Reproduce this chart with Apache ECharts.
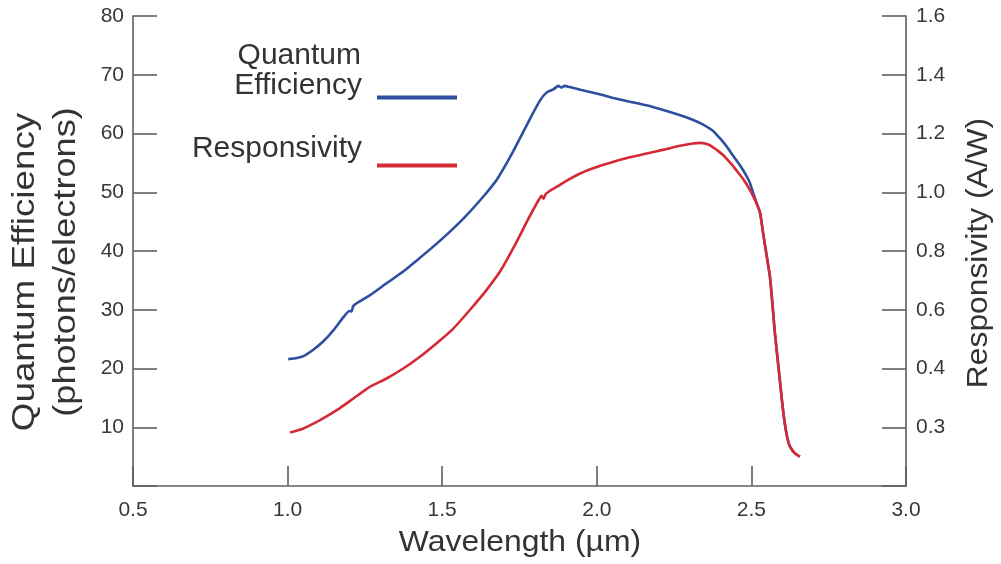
<!DOCTYPE html>
<html>
<head>
<meta charset="utf-8">
<title>Quantum Efficiency and Responsivity</title>
<script src="https://cdn.jsdelivr.net/npm/echarts@6/dist/echarts.min.js"></script>
<style>
  html, body { margin: 0; padding: 0; background: #ffffff; }
  #chart { width: 1001px; height: 564px; }
</style>
</head>
<body>
<div id="chart"></div>
<script>
// Quantum efficiency (%) against wavelength (µm)
const qeWavelength = [1.002, 1.03, 1.051, 1.083, 1.115, 1.148, 1.18, 1.2, 1.207, 1.212, 1.223, 1.267, 1.32, 1.374, 1.418, 1.47, 1.519, 1.57, 1.622, 1.676, 1.73, 1.784, 1.816, 1.838, 1.859, 1.876, 1.886, 1.895, 1.913, 1.95, 1.999, 2.05, 2.107, 2.16, 2.215, 2.27, 2.312, 2.344, 2.377, 2.398, 2.42, 2.441, 2.463, 2.484, 2.495, 2.517, 2.528, 2.538, 2.55, 2.56, 2.568, 2.576, 2.585, 2.593, 2.601, 2.609, 2.617, 2.625, 2.64, 2.657];
const qeValues = [21.6, 21.8, 22.1, 23.2, 24.6, 26.5, 28.7, 29.8, 29.7, 30.6, 31.1, 32.5, 34.5, 36.5, 38.4, 40.7, 43.0, 45.6, 48.6, 52.1, 57.0, 62.5, 65.6, 67.0, 67.5, 68.1, 67.8, 68.1, 67.9, 67.4, 66.8, 66.1, 65.4, 64.8, 64.0, 63.1, 62.3, 61.5, 60.4, 59.2, 57.8, 56.2, 54.6, 52.8, 51.6, 48.1, 46.5, 43.0, 39.0, 35.6, 31.0, 26.0, 21.5, 17.5, 13.5, 10.3, 8.0, 6.7, 5.6, 5.0];

// Responsivity (A/W) against wavelength (µm)
const respWavelength = [1.008, 1.051, 1.105, 1.159, 1.213, 1.267, 1.32, 1.374, 1.428, 1.482, 1.536, 1.59, 1.638, 1.687, 1.735, 1.779, 1.811, 1.822, 1.828, 1.835, 1.85, 1.87, 1.9, 1.946, 2.0, 2.054, 2.11, 2.161, 2.22, 2.269, 2.31, 2.334, 2.35, 2.366, 2.377, 2.393, 2.409, 2.42, 2.437, 2.452, 2.474, 2.495, 2.506, 2.517, 2.528, 2.538, 2.55, 2.56, 2.568, 2.576, 2.585, 2.593, 2.601, 2.609, 2.617, 2.625, 2.64, 2.657];
const respValues = [0.182, 0.196, 0.224, 0.258, 0.298, 0.338, 0.366, 0.400, 0.440, 0.486, 0.536, 0.600, 0.660, 0.730, 0.820, 0.910, 0.972, 0.988, 0.978, 0.994, 1.006, 1.018, 1.038, 1.064, 1.086, 1.104, 1.120, 1.132, 1.146, 1.158, 1.166, 1.168, 1.166, 1.160, 1.152, 1.140, 1.126, 1.114, 1.094, 1.074, 1.044, 1.008, 0.986, 0.962, 0.930, 0.860, 0.780, 0.712, 0.620, 0.520, 0.430, 0.350, 0.270, 0.206, 0.160, 0.134, 0.112, 0.100];

// Tick labels
const leftTickLabels = ['', '10', '20', '30', '40', '50', '60', '70', '80'];
const rightTickLabels = ['', '0.3', '0.4', '0.6', '0.8', '1.0', '1.2', '1.4', '1.6'];
const xTickLabels = ['0.5', '1.0', '1.5', '2.0', '2.5', '3.0'];

const seriesNames = ['Quantum Efficiency', 'Responsivity'];

const BLUE = '#2d4f9e';
const RED = '#d42a35';
const AXIS = '#5f5f5f';
const TEXT = '#333333';
const FONT = '"Liberation Sans", Arial, Helvetica, sans-serif';

const qeData = qeWavelength.map((w, i) => [w, qeValues[i]]);
const respData = respWavelength.map((w, i) => [w, respValues[i]]);

const axisLineStyle = { show: true, lineStyle: { color: AXIS, width: 1.6 } };
const tickLabelStyle = { color: '#383838', fontSize: 21, fontFamily: FONT };

const chart = echarts.init(document.getElementById('chart'), null, { renderer: 'canvas' });

chart.setOption({
  backgroundColor: '#ffffff',
  animation: false,
  grid: { left: 133, right: 95, top: 16, bottom: 78, containLabel: false },
  xAxis: {
    type: 'value',
    min: 0.5,
    max: 3.0,
    interval: 0.5,
    axisLine: axisLineStyle,
    axisTick: { show: true, inside: true, length: 20, lineStyle: { color: AXIS, width: 1.6 } },
    splitLine: { show: false },
    axisLabel: Object.assign({
      margin: 14,
      formatter: v => xTickLabels[Math.round((v - 0.5) / 0.5)]
    }, tickLabelStyle)
  },
  yAxis: [
    {
      type: 'value',
      position: 'left',
      min: 0,
      max: 80,
      interval: 10,
      axisLine: axisLineStyle,
      axisTick: { show: true, inside: true, length: 24, lineStyle: { color: AXIS, width: 1.6 } },
      splitLine: { show: false },
      axisLabel: Object.assign({
        margin: 9,
        formatter: v => leftTickLabels[Math.round(v / 10)]
      }, tickLabelStyle)
    },
    {
      type: 'value',
      position: 'right',
      min: 0,
      max: 1.6,
      interval: 0.2,
      axisLine: axisLineStyle,
      axisTick: { show: true, inside: true, length: 24, lineStyle: { color: AXIS, width: 1.6 } },
      splitLine: { show: false },
      axisLabel: Object.assign({
        margin: 10,
        formatter: v => rightTickLabels[Math.round(v / 0.2)]
      }, tickLabelStyle)
    }
  ],
  series: [
    {
      name: seriesNames[0],
      type: 'line',
      yAxisIndex: 0,
      data: qeData,
      showSymbol: false,
      smooth: 0.2,
      lineStyle: { color: BLUE, width: 2.6 },
      itemStyle: { color: BLUE },
      z: 2
    },
    {
      name: seriesNames[1],
      type: 'line',
      yAxisIndex: 1,
      data: respData,
      showSymbol: false,
      smooth: 0.2,
      lineStyle: { color: RED, width: 2.6 },
      itemStyle: { color: RED },
      z: 3
    }
  ],
  graphic: [
    // Key: labels with their line swatches
    { type: 'text', x: 361, y: 56, style: { text: 'Quantum', font: '30px ' + FONT, fill: TEXT, align: 'right', verticalAlign: 'middle', textAlign: 'right', textVerticalAlign: 'middle' } },
    { type: 'text', x: 362, y: 86, style: { text: 'Efficiency', font: '30px ' + FONT, fill: TEXT, align: 'right', verticalAlign: 'middle', textAlign: 'right', textVerticalAlign: 'middle' } },
    { type: 'line', shape: { x1: 377, y1: 97.5, x2: 457, y2: 97.5 }, style: { stroke: BLUE, lineWidth: 4 } },
    { type: 'text', x: 362, y: 149, style: { text: 'Responsivity', font: '30px ' + FONT, fill: TEXT, align: 'right', verticalAlign: 'middle', textAlign: 'right', textVerticalAlign: 'middle' } },
    { type: 'line', shape: { x1: 377, y1: 165.5, x2: 457, y2: 165.5 }, style: { stroke: RED, lineWidth: 4 } },

    // Axis titles
    { type: 'text', x: 520, y: 543, scaleX: 1.1, style: { text: 'Wavelength (µm)', font: '29px ' + FONT, fill: TEXT, align: 'center', verticalAlign: 'middle', textAlign: 'center', textVerticalAlign: 'middle' } },
    { type: 'text', x: 25, y: 272, rotation: Math.PI / 2, scaleX: 1.15, style: { text: 'Quantum Efficiency', font: '32px ' + FONT, fill: TEXT, align: 'center', verticalAlign: 'middle', textAlign: 'center', textVerticalAlign: 'middle' } },
    { type: 'text', x: 66, y: 262, rotation: Math.PI / 2, scaleX: 1.13, style: { text: '(photons/electrons)', font: '32px ' + FONT, fill: TEXT, align: 'center', verticalAlign: 'middle', textAlign: 'center', textVerticalAlign: 'middle' } },
    { type: 'text', x: 979, y: 253, rotation: Math.PI / 2, scaleX: 1.06, style: { text: 'Responsivity (A/W)', font: '30px ' + FONT, fill: TEXT, align: 'center', verticalAlign: 'middle', textAlign: 'center', textVerticalAlign: 'middle' } }
  ]
});
</script>
</body>
</html>
